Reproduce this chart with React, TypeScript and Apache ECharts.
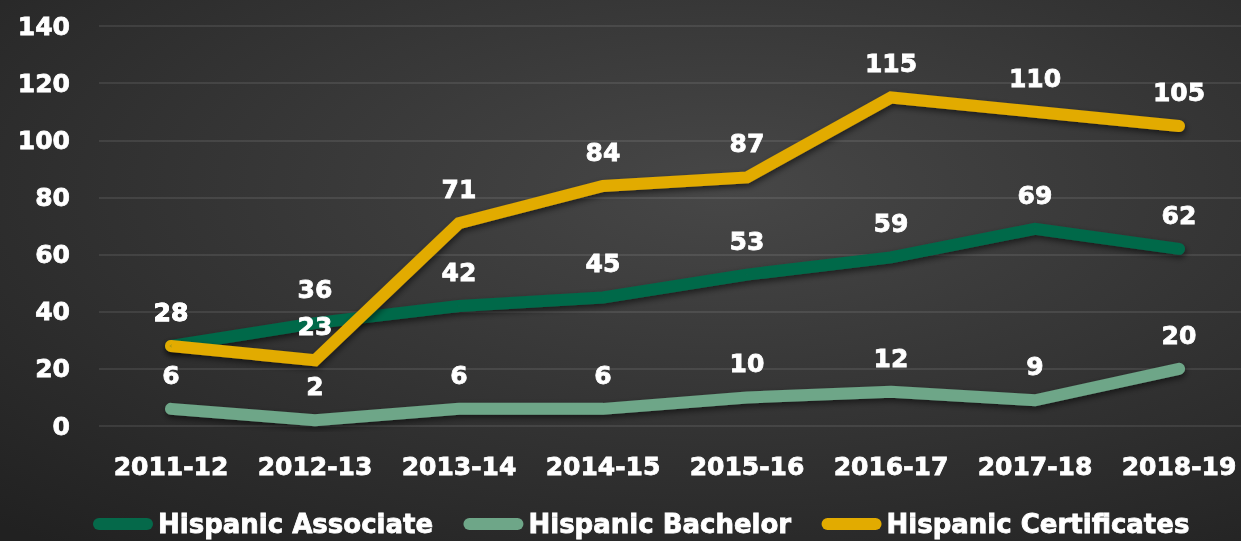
import React, { useEffect, useRef } from "react";
import * as echarts from "echarts";

const categories = ["2011-12", "2012-13", "2013-14", "2014-15", "2015-16", "2016-17", "2017-18", "2018-19"];
const associate = [28, 36, 42, 45, 53, 59, 69, 62];
const bachelor = [6, 2, 6, 6, 10, 12, 9, 20];
const certificates = [28, 23, 71, 84, 87, 115, 110, 105];
const seriesNames = ["Hispanic Associate", "Hispanic Bachelor", "Hispanic Certificates"];
const colors = ["#05694a", "#6ea688", "#e2ab00"];

const FONT = "DejaVu Sans";
const txt = {
  color: "#ffffff",
  fontFamily: FONT,
  fontWeight: "bold",
  fontSize: 25,
  textBorderColor: "#ffffff",
  textBorderWidth: 0.8,
};

export default function App() {
  const ref = useRef<HTMLDivElement>(null);
  useEffect(() => {
    document.body.style.overflow = "hidden";
    const chart = echarts.init(ref.current!, null, { renderer: "svg" });
    const mk = (name: string, data: number[], color: string) => ({
      name,
      type: "line",
      data,
      symbol: "circle",
      symbolSize: 2,
      itemStyle: { color },
      lineStyle: {
        color,
        width: 12,
        cap: "round",
        join: "miter",
        shadowColor: "rgba(0,0,0,0.55)",
        shadowBlur: 6,
        shadowOffsetY: 3,
        shadowOffsetX: 1,
      },
      label: { show: true, position: "top", distance: 20, ...txt },
    });
    chart.setOption({
      animation: false,
      backgroundColor: {
        type: "radial",
        x: 0.58,
        y: 0.35,
        r: 0.85,
        colorStops: [
          { offset: 0, color: "#474747" },
          { offset: 1, color: "#212121" },
        ],
      },
      grid: { left: 99, right: 0, top: 26, bottom: 115, containLabel: false },
      xAxis: {
        type: "category",
        data: categories,
        boundaryGap: true,
        axisLine: { show: false },
        axisTick: { show: false },
        axisLabel: { ...txt, interval: 0, margin: 28 },
      },
      yAxis: {
        type: "value",
        min: 0,
        max: 140,
        interval: 20,
        axisLine: { show: false },
        axisTick: { show: false },
        splitLine: { lineStyle: { color: "rgba(255,255,255,0.09)", width: 2 } },
        axisLabel: { ...txt, margin: 29 },
      },
      legend: {
        left: 93,
        top: 509,
        padding: 0,
        itemWidth: 60,
        itemHeight: 12,
        itemGap: 30,
        icon: "path://M6,0 H54 A6,6 0 0 1 54,12 H6 A6,6 0 0 1 6,0 Z",
        textStyle: { ...txt, fontSize: 26, lineHeight: 30 },
        data: seriesNames,
      },
      series: [
        mk(seriesNames[0], associate, colors[0]),
        mk(seriesNames[1], bachelor, colors[1]),
        mk(seriesNames[2], certificates, colors[2]),
      ],
    });
    return () => chart.dispose();
  }, []);
  return (
    <div
      ref={ref}
      style={{ position: "fixed", left: 0, top: 0, width: 1251, height: 541 }}
    />
  );
}
